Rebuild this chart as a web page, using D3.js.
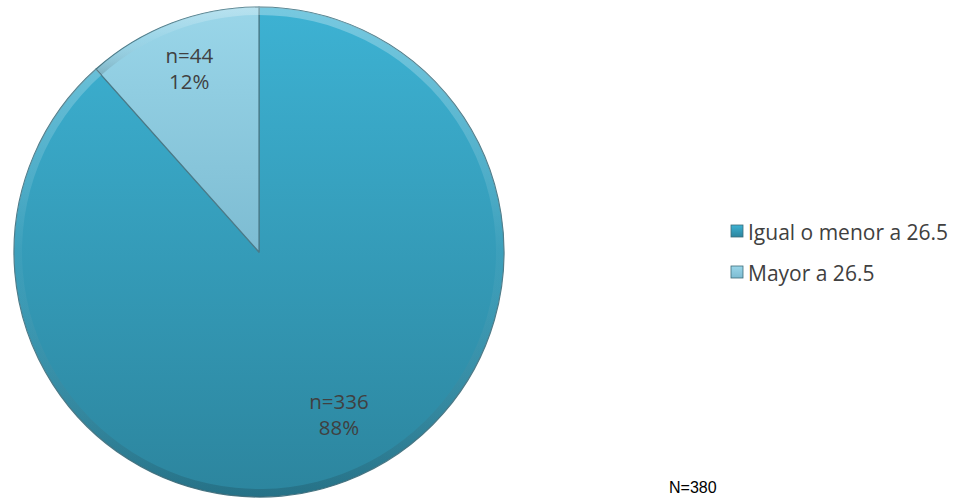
<!DOCTYPE html>
<html>
<head>
<meta charset="utf-8">
<script src="https://cdn.jsdelivr.net/npm/d3@7"></script>
<style>
  body { margin: 0; background: #fff; }
  svg { display: block; }
</style>
</head>
<body>
<div id="chart"></div>
<script>
// data
var categories = ["Igual o menor a 26.5", "Mayor a 26.5"];
var counts = [336, 44];
var percents = ["88%", "12%"];
var totalLabel = "N=380";

var svgWidth = 957;
var svgHeight = 499;

var cx = 259, cy = 252, radius = 245;

var svg = d3.select("#chart")
  .append("svg")
  .attr("width", svgWidth)
  .attr("height", svgHeight);

var defs = svg.append("defs");

// gradients for each slice
var grads = [
  { id: "g0", top: "#3db2d3", bottom: "#2c859e" },
  { id: "g1", top: "#9ad6e9", bottom: "#7dbcd2" }
];
grads.forEach(function(g) {
  var lg = defs.append("linearGradient")
    .attr("id", g.id)
    .attr("x1", 0).attr("y1", 0).attr("x2", 0).attr("y2", 1);
  lg.append("stop").attr("offset", "0%").attr("stop-color", g.top);
  lg.append("stop").attr("offset", "100%").attr("stop-color", g.bottom);
});

// bevel gradient (light top, dark bottom)
var bevel = defs.append("linearGradient")
  .attr("id", "bevel")
  .attr("x1", 0).attr("y1", 0).attr("x2", 0).attr("y2", 1);
bevel.append("stop").attr("offset", "0%").attr("stop-color", "#ffffff").attr("stop-opacity", 0.3);
bevel.append("stop").attr("offset", "50%").attr("stop-color", "#ffffff").attr("stop-opacity", 0.04);
bevel.append("stop").attr("offset", "100%").attr("stop-color", "#000000").attr("stop-opacity", 0.15);

var pie = d3.pie().sort(null).value(d => d);
var arcs = pie(counts);

var arc = d3.arc().innerRadius(0).outerRadius(radius);
var rim = d3.arc().innerRadius(radius - 8).outerRadius(radius);

var g = svg.append("g")
  .attr("transform", `translate(${cx}, ${cy})`);

g.selectAll("path.slice")
  .data(arcs)
  .enter()
  .append("path")
  .attr("class", "slice")
  .attr("d", arc)
  .attr("fill", (d, i) => `url(#g${i})`)
  .attr("stroke", "#4a7a88")
  .attr("stroke-width", 1.2)
  .attr("stroke-linejoin", "round");

// rim bevel
g.selectAll("path.rim")
  .data(arcs)
  .enter()
  .append("path")
  .attr("class", "rim")
  .attr("d", rim)
  .attr("fill", "url(#bevel)");

// slice labels along the bisector of each slice, nudged a little
var labelRadius = [radius * 0.71, radius * 0.8];
var labelNudge = [18, 0];
svg.selectAll("text.lbl")
  .data(arcs)
  .enter()
  .append("text")
  .attr("class", "lbl")
  .attr("text-anchor", "middle")
  .attr("font-family", "'Open Sans', sans-serif")
  .attr("font-size", "20.5px")
  .attr("fill", "#404040")
  .each(function(d, i) {
    var la = d3.arc().innerRadius(labelRadius[i]).outerRadius(labelRadius[i]);
    var c = la.centroid(d);
    var t = d3.select(this);
    var x = cx + c[0] + labelNudge[i];
    t.append("tspan").attr("x", x).attr("y", cy + c[1] - 6).text("n=" + counts[i]);
    t.append("tspan").attr("x", x).attr("y", cy + c[1] + 20).text(percents[i]);
  });

// legend
var legend = svg.append("g")
  .attr("transform", "translate(731, 226)");

var items = legend.selectAll("g")
  .data(categories)
  .enter()
  .append("g")
  .attr("transform", (d, i) => `translate(0, ${i * 41})`);

items.append("rect")
  .attr("y", -1)
  .attr("width", 12).attr("height", 12)
  .attr("fill", (d, i) => `url(#g${i})`)
  .attr("stroke", "#3c6b78")
  .attr("stroke-width", 0.8);

items.append("text")
  .attr("x", 17)
  .attr("y", 14)
  .attr("font-family", "'Open Sans', sans-serif")
  .attr("font-size", "21px")
  .attr("fill", "#404040")
  .text(d => d);

svg.append("text")
  .attr("x", 669)
  .attr("y", 493)
  .attr("font-family", "Arial, 'Liberation Sans', sans-serif")
  .attr("font-size", "16px")
  .attr("fill", "#000")
  .text(totalLabel);
</script>
</body>
</html>
